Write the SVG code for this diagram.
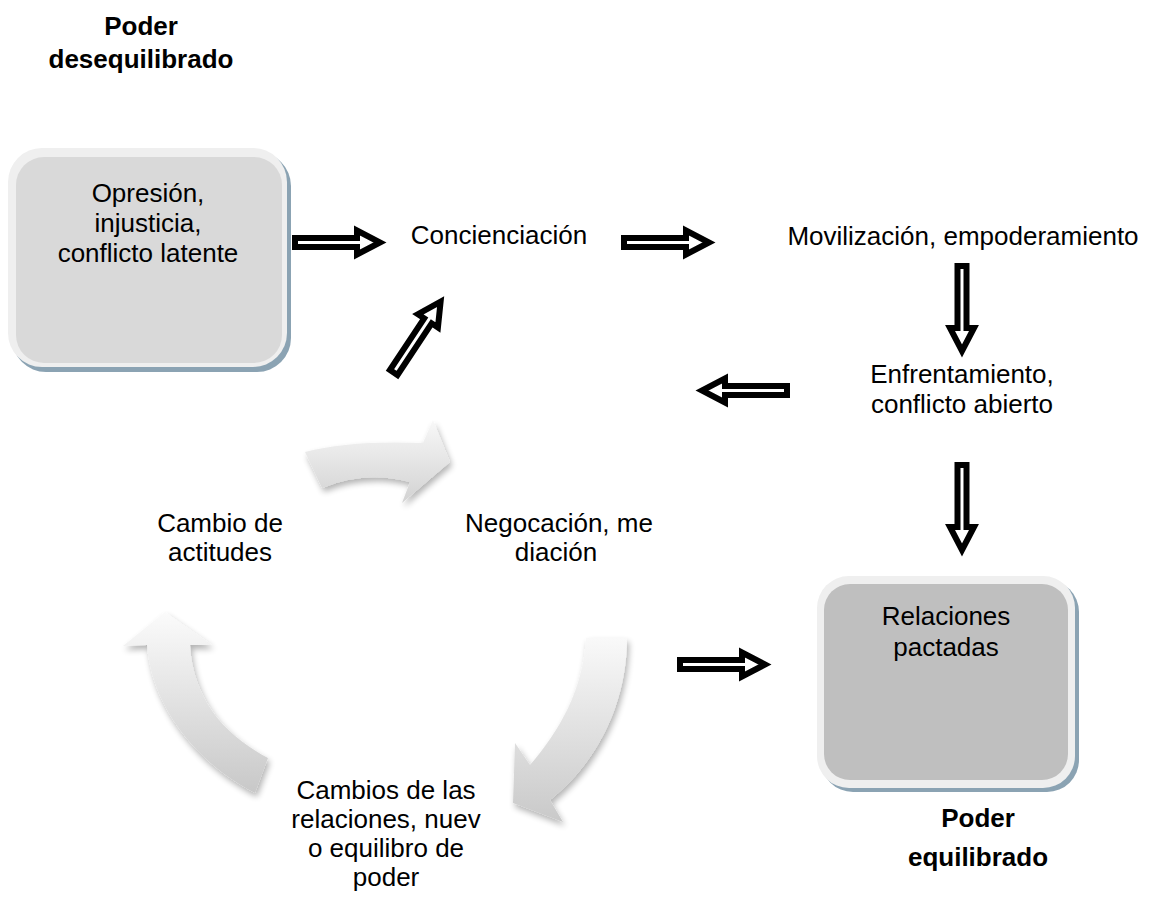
<svg xmlns="http://www.w3.org/2000/svg" width="1149" height="898" viewBox="0 0 1149 898">
<style>
.t{font-family:"Liberation Sans",Arial,sans-serif;font-size:26px;fill:#000;text-anchor:middle}
.b{font-weight:bold}
.frame{fill:#efefef}
.shadow{fill:#8ba3b3}
.blk{fill:#fff;stroke:#000;stroke-width:6;stroke-linejoin:miter;stroke-miterlimit:10}
</style>
<defs>
<path id="ba" d="M0,-4.5 L62,-4.5 L62,-12 L85,0 L62,12 L62,4.5 L0,4.5 Z"/>
<linearGradient id="gA" x1="0" y1="0" x2="0" y2="1">
<stop offset="0" stop-color="#f8f8f8"/><stop offset="1" stop-color="#d2d2d2"/>
</linearGradient>
<linearGradient id="gB" x1="0" y1="0" x2="0" y2="1">
<stop offset="0" stop-color="#f9f9f9"/><stop offset="1" stop-color="#c9c9c9"/>
</linearGradient>
<linearGradient id="gC" x1="0" y1="0" x2="0" y2="1">
<stop offset="0" stop-color="#fbfbfb"/><stop offset="1" stop-color="#c8c8c8"/>
</linearGradient>
<filter id="sh" x="-20%" y="-20%" width="140%" height="140%">
<feGaussianBlur in="SourceAlpha" stdDeviation="3"/>
<feOffset dx="2" dy="4" result="o"/>
<feComponentTransfer><feFuncA type="linear" slope="0.3"/></feComponentTransfer>
<feMerge><feMergeNode/><feMergeNode in="SourceGraphic"/></feMerge>
</filter>
</defs>

<g id="title-top">
<text class="t b" x="141" y="35">Poder</text>
<text class="t b" x="141" y="68">desequilibrado</text>
</g>

<g id="node-opresion">
<rect class="shadow" x="12" y="152" width="279" height="220" rx="34"/>
<rect class="frame" x="8" y="148" width="279" height="219" rx="34"/>
<rect x="16" y="157" width="266" height="206" rx="28" fill="#d9d9d9"/>
<text class="t" x="148" y="202">Opresión,</text>
<text class="t" x="148" y="232">injusticia,</text>
<text class="t" x="148" y="262">conflicto latente</text>
</g>

<g id="node-concienciacion">
<text class="t" x="499" y="244">Concienciación</text>
</g>

<g id="node-movilizacion">
<text class="t" x="963" y="245">Movilización, empoderamiento</text>
</g>

<g id="node-enfrentamiento">
<text class="t" x="962" y="383">Enfrentamiento,</text>
<text class="t" x="962" y="413">conflicto abierto</text>
</g>

<g id="node-cambio-actitudes">
<text class="t" x="220" y="532">Cambio de</text>
<text class="t" x="220" y="561">actitudes</text>
</g>

<g id="node-negociacion">
<text class="t" x="559" y="532">Negocación, me</text>
<text class="t" x="556" y="561">diación</text>
</g>

<g id="node-cambios-relaciones">
<text class="t" x="386" y="799">Cambios de las</text>
<text class="t" x="386" y="828">relaciones, nuev</text>
<text class="t" x="386" y="857">o equilibro de</text>
<text class="t" x="386" y="886">poder</text>
</g>

<g id="node-relaciones-pactadas">
<rect class="shadow" x="821" y="580" width="258" height="212" rx="32"/>
<rect class="frame" x="817" y="576" width="258" height="212" rx="32"/>
<rect x="824" y="584" width="244" height="196" rx="26" fill="#bfbfbf"/>
<text class="t" x="946" y="625">Relaciones</text>
<text class="t" x="946" y="656">pactadas</text>
</g>

<g id="title-bottom">
<text class="t b" x="978" y="827">Poder</text>
<text class="t b" x="978" y="866">equilibrado</text>
</g>

<g id="connectors">
<use href="#ba" class="blk" transform="translate(295,242.5)"/>
<use href="#ba" class="blk" transform="translate(624,242.5)"/>
<use href="#ba" class="blk" transform="translate(962,266) rotate(90)"/>
<use href="#ba" class="blk" transform="translate(787,390.5) rotate(180)"/>
<use href="#ba" class="blk" transform="translate(962,465) rotate(90)"/>
<use href="#ba" class="blk" transform="translate(393.7,372.5) rotate(-56.5)"/>
<use href="#ba" class="blk" transform="translate(680,664.5)"/>
<g filter="url(#sh)">
<path fill="url(#gA)" d="M305,452 Q350,440 423,443 L433,420 L450,462 L402,503 L410,482 Q365,470 322,488 Z"/>
<path fill="url(#gB)" d="M586,638 L627,638 C627,700 600,760 550,800 L563,822 L513,803 L515,743 L530,765 C560,730 583,690 586,638 Z"/>
<path fill="url(#gC)" d="M165,612 L212,645 L190,645 C193,700 225,735 268,758 L255,793 C200,765 152,710 147,645 L123,646 Z"/>
</g>
</g>
</svg>
